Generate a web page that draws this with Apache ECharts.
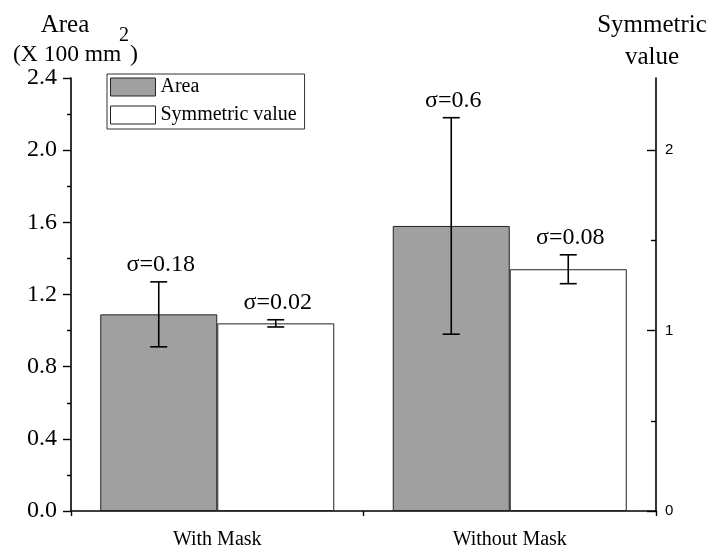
<!DOCTYPE html>
<html>
<head>
<meta charset="utf-8">
<script src="https://cdn.jsdelivr.net/npm/echarts@6/dist/echarts.min.js"></script>
<style>
html,body{margin:0;padding:0;background:#fff;}
#chart{width:717px;height:552px;}
</style>
</head>
<body>
<div id="chart"></div>
<script>
const categories = ['With Mask', 'Without Mask'];
const areaValues = [1.09, 1.58];
const areaSigma = [0.18, 0.6];
const symValues = [1.04, 1.34];
const symSigma = [0.02, 0.08];
const leftAxisMin = 0, leftAxisMax = 2.4, leftAxisStep = 0.4;
const rightTickValues = [0, 1, 2];
const rightMinorTickValues = [0.5, 1.5];

const SERIF = '"Liberation Serif", "Times New Roman", serif';
const SANS = '"Liberation Sans", Arial, sans-serif';

function errData(vals, sig) {
  return vals.map((v, i) => [i, v - sig[i], v + sig[i], sig[i]]);
}

function makeErr(sign) {
  return function (params, api) {
    const idx = api.value(0);
    const lo = api.value(1), hi = api.value(2), s = api.value(3);
    const band = api.size([1, 0])[0];
    const cx = api.coord([idx, 0])[0] + sign * band * 0.2;
    const yTop = api.coord([idx, hi])[1];
    const yBot = api.coord([idx, lo])[1];
    const cap = 8.5;
    const ls = { stroke: '#000', lineWidth: 1.6 };
    return {
      type: 'group',
      children: [
        { type: 'line', shape: { x1: cx, y1: yTop, x2: cx, y2: yBot }, style: ls },
        { type: 'line', shape: { x1: cx - cap, y1: yTop, x2: cx + cap, y2: yTop }, style: ls },
        { type: 'line', shape: { x1: cx - cap, y1: yBot, x2: cx + cap, y2: yBot }, style: ls },
        { type: 'text', style: { text: 'σ=' + s, x: cx + 2, y: yTop - 5, align: 'center', verticalAlign: 'bottom', fontSize: 24, fontFamily: SERIF, fill: '#000' } }
      ]
    };
  };
}

function txt(text, x, y, size, align) {
  return { type: 'text', x: x, y: y, style: { text: text, align: align || 'left', verticalAlign: 'middle', fontSize: size, fontFamily: SERIF, fill: '#000' } };
}

const chart = echarts.init(document.getElementById('chart'), null, { renderer: 'canvas' });
chart.setOption({
  backgroundColor: '#fff',
  animation: false,
  grid: { left: 71, right: 61, top: 78, bottom: 41, containLabel: false },
  graphic: [
    txt('Area', 65, 25, 25, 'center'),
    txt('(X 100 mm', 13, 55, 23.5),
    txt('2', 119, 36, 20),
    txt(')', 130, 55, 24),
    txt('Symmetric', 652, 25, 25, 'center'),
    txt('value', 652, 57, 25, 'center')
  ],
  legend: {
    data: ['Area', 'Symmetric value'],
    orient: 'vertical',
    left: 107, top: 74,
    padding: [3, 8, 4, 3],
    itemWidth: 45, itemHeight: 18, itemGap: 8,
    borderColor: '#333', borderWidth: 1,
    icon: 'rect',
    itemStyle: { borderColor: '#222', borderWidth: 1 },
    textStyle: { fontFamily: SERIF, fontSize: 20, color: '#000' }
  },
  xAxis: [
    {
      type: 'category', data: categories, position: 'bottom',
      axisLine: { lineStyle: { color: '#000', width: 1.6 } },
      axisTick: { alignWithLabel: true, length: 8, lineStyle: { color: '#000', width: 1.4 } },
      axisLabel: { fontFamily: SERIF, fontSize: 20, color: '#000', margin: 19 }
    },
    {
      type: 'category', data: categories, position: 'bottom',
      axisLine: { show: false },
      axisTick: { show: true, length: 5, lineStyle: { color: '#000', width: 1.4 } },
      axisLabel: { show: false }
    }
  ],
  yAxis: [
    {
      type: 'value', min: leftAxisMin, max: leftAxisMax, interval: leftAxisStep, position: 'left',
      axisLine: { show: true, lineStyle: { color: '#000', width: 1.6 } },
      axisTick: { show: true, length: 8, lineStyle: { color: '#000', width: 1.4 } },
      minorTick: { show: true, splitNumber: 2, length: 4, lineStyle: { color: '#000', width: 1.4 } },
      splitLine: { show: false },
      axisLabel: { fontFamily: SERIF, fontSize: 24, color: '#000', margin: 14, formatter: v => v.toFixed(1) }
    },
    {
      type: 'value', min: leftAxisMin, max: leftAxisMax, position: 'right',
      axisLine: { show: true, lineStyle: { color: '#000', width: 1.6 } },
      axisTick: { show: true, inside: true, length: 9, customValues: rightTickValues, lineStyle: { color: '#000', width: 1.4 } },
      splitLine: { show: false },
      axisLabel: { fontFamily: SANS, fontSize: 15, color: '#000', margin: 9, customValues: rightTickValues }
    },
    {
      type: 'value', min: leftAxisMin, max: leftAxisMax, position: 'right',
      axisLine: { show: false },
      axisTick: { show: true, inside: true, length: 5, customValues: rightMinorTickValues, lineStyle: { color: '#000', width: 1.4 } },
      splitLine: { show: false },
      axisLabel: { show: false }
    }
  ],
  series: [
    {
      name: 'Area', type: 'bar', xAxisIndex: 0, yAxisIndex: 0, data: areaValues,
      barWidth: '40%', barGap: '0%',
      itemStyle: { color: '#a0a0a0', borderColor: '#222', borderWidth: 1 }
    },
    {
      name: 'Symmetric value', type: 'bar', xAxisIndex: 0, yAxisIndex: 1, data: symValues,
      barWidth: '40%', barGap: '0%',
      itemStyle: { color: '#ffffff', borderColor: '#222', borderWidth: 1 }
    },
    {
      name: 'areaErr', type: 'custom', xAxisIndex: 0, yAxisIndex: 0, z: 5,
      renderItem: makeErr(-1), data: errData(areaValues, areaSigma)
    },
    {
      name: 'symErr', type: 'custom', xAxisIndex: 0, yAxisIndex: 1, z: 5,
      renderItem: makeErr(1), data: errData(symValues, symSigma)
    }
  ]
});
</script>
</body>
</html>
